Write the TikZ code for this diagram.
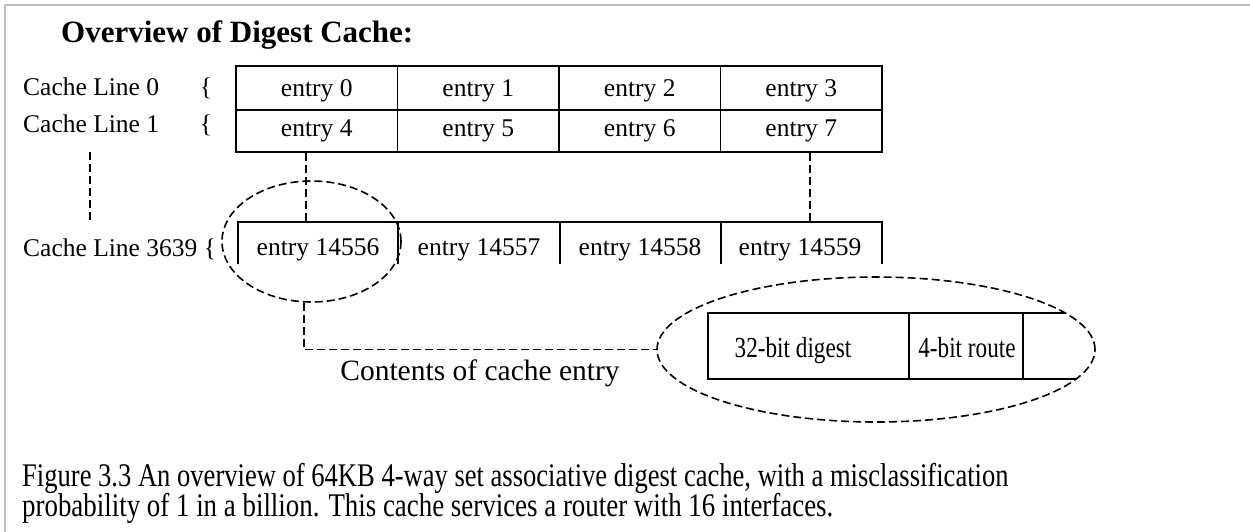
\documentclass[tikz,border=0pt]{standalone}
\usepackage{fontspec}
\usepackage{graphicx}
\setmainfont{Liberation Serif}
\usetikzlibrary{shapes.geometric,calc}

\begin{document}
\begin{tikzpicture}[x=1pt,y=-1pt,
  frame/.style={draw=black!25, line width=2.2pt},
  wall/.style={line width=1.8pt},
  cell/.style={draw, line width=1.8pt, inner sep=0pt, minimum width=161.5pt},
  lbl/.style={inner sep=0pt, anchor=base, font=\fontsize{25.5}{30}\selectfont},
  side/.style={lbl, anchor=base west},
  narrow/.style={inner sep=0pt, anchor=base, font=\fontsize{29}{32}\selectfont},
  capt/.style={inner sep=0pt, anchor=base west, font=\fontsize{33}{36}\selectfont},
  dsh/.style={line width=1.6pt, dash pattern=on 8pt off 4pt},
  ring/.style={draw, ellipse, dsh, inner sep=0pt},
]
\useasboundingbox (0,0) rectangle (1250,532);

% page frame (top and left rules)
\draw[frame] (5,532) -- (5,5) -- (1250,5);

% heading
\node[inner sep=0pt, anchor=base west, font=\fontsize{31}{36}\selectfont\bfseries]
  (title) at (61,43) {Overview of Digest Cache:};

% row labels
\node[side] (cl0) at (23,96) {Cache Line 0};
\node[side] (cl1) at (23,133) {Cache Line 1};
\node[lbl] (br0) at (206,96) {\{};
\node[lbl] (br1) at (206,133) {\{};
\node[side] (cl3639) at (23,256) {Cache Line 3639 \{};

% cache lines 0 and 1
\foreach \i/\x in {0/316.75,1/478.25,2/639.75,3/801.25}{
  \node[cell, minimum height=44pt] (a\i) at (\x,88) {};
  \node[lbl] (ta\i) at (\x,97) {entry \i};
}
\foreach \i/\x/\n in {0/316.75/4,1/478.25/5,2/639.75/6,3/801.25/7}{
  \node[cell, minimum height=42pt] (b\i) at (\x,131) {};
  \node[lbl] (tb\i) at (\x,137) {entry \n};
}

% cache line 3639 (open at the bottom)
\draw[wall] (238,264) -- (238,222) -- (882,222) -- (882,264);
\foreach \x in {398,560,721}{ \draw[wall] (\x,222) -- (\x,264); }
\node[lbl] (e0) at (318,255) {entry 14556};
\node[lbl] (e1) at (479,255) {entry 14557};
\node[lbl] (e2) at (640,255) {entry 14558};
\node[lbl] (e3) at (800,255) {entry 14559};

% dashed continuation marks
\draw[dsh] (90,152) -- (90,222);
\draw[dsh] ([xshift=-10.75pt]b0.south) -- ++(0,70);
\draw[dsh] ([xshift=8.75pt]b3.south) -- ++(0,70);

% highlighted entry and its enlarged contents
\node[ring, minimum width=179pt, minimum height=121pt] (se) at (311.5,241.5) {};
\node[ring, minimum width=438pt, minimum height=145pt] (be) at (876,349.5) {};
\draw[dsh] ([xshift=-7.5pt]se.south) |- (be.west);

\draw[wall] (1065,313) -- (708,313) -- (708,379) -- (1077,379);
\draw[wall] (909,313) -- (909,379);
\draw[wall] (1023,313) -- (1023,379);
\node[narrow] (dg) at (793,357) {\scalebox{0.8}[1]{32-bit digest}};
\node[narrow] (rt) at (967,357) {\scalebox{0.8}[1]{4-bit route}};

\node[inner sep=0pt, anchor=base, font=\fontsize{29.5}{34}\selectfont]
  (cont) at (480,380) {Contents of cache entry};

% caption
\node[capt] (cap1) at (22,486) {\scalebox{0.805}[1]{Figure 3.3 An overview of 64KB 4-way set associative digest cache, with a misclassification}};
\node[capt] (cap2) at (22,516) {\scalebox{0.815}[1]{probability of 1 in a billion. This cache services a router with 16 interfaces.}};
\end{tikzpicture}
\end{document}
